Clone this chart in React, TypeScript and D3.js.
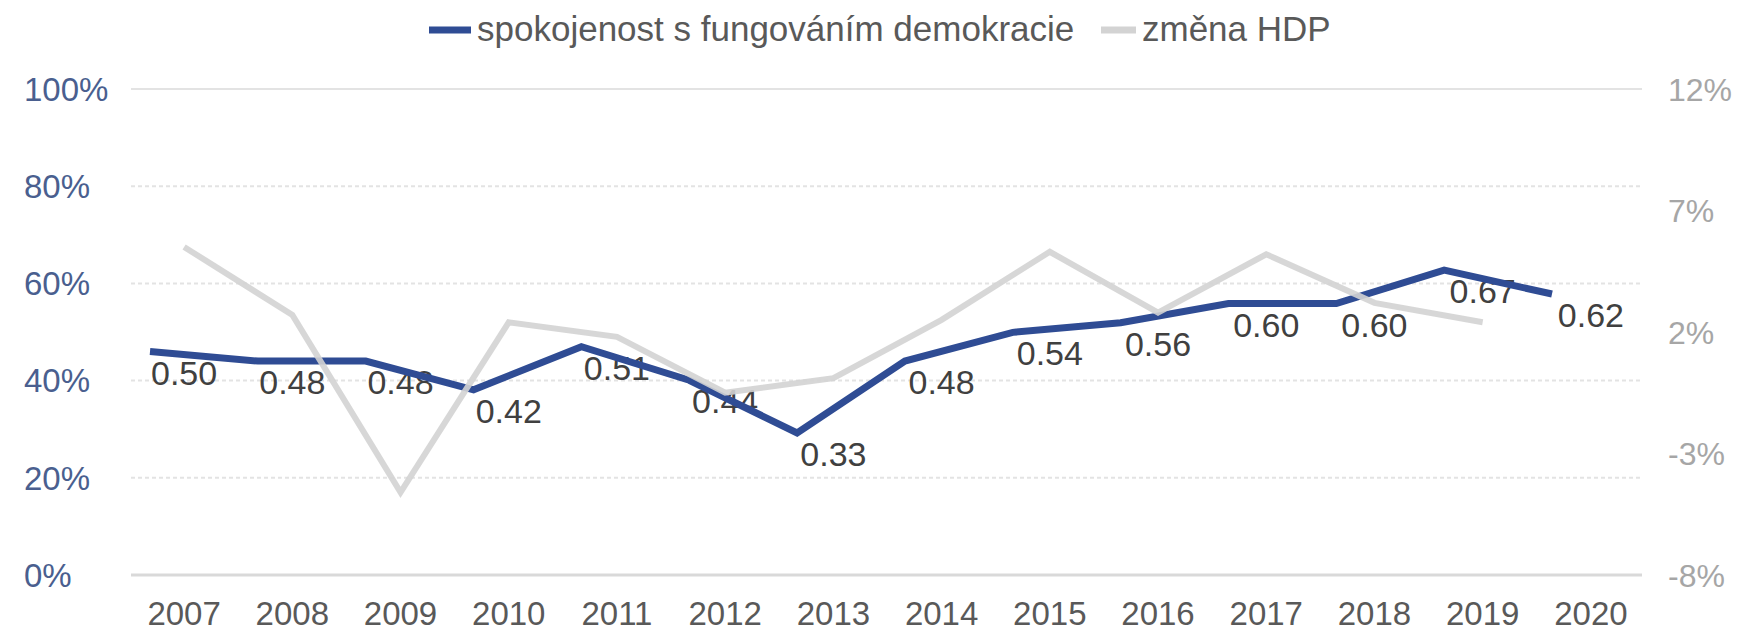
import React, { useEffect, useRef } from 'react';
import * as d3 from 'd3';

const years = ['2007', '2008', '2009', '2010', '2011', '2012', '2013', '2014', '2015', '2016', '2017', '2018', '2019', '2020'];
// spokojenost s fungováním demokracie (podíl)
const satisfaction = [0.50, 0.48, 0.48, 0.42, 0.51, 0.44, 0.33, 0.48, 0.54, 0.56, 0.60, 0.60, 0.67, 0.62];
// změna HDP (%), 2007 - 2019
const gdpYears = ['2007', '2008', '2009', '2010', '2011', '2012', '2013', '2014', '2015', '2016', '2017', '2018', '2019'];
const gdpChange = [5.5, 2.7, -4.6, 2.4, 1.8, -0.5, 0.1, 2.5, 5.3, 2.8, 5.2, 3.2, 2.4];
const leftTicks = [0, 0.2, 0.4, 0.6, 0.8, 1];
const rightTicks = [-8, -3, 2, 7, 12];
const seriesNames = ['spokojenost s fungováním demokracie', 'změna HDP'];

const BLUE = '#2F4C94';
const GRAY = '#d3d3d3';
const FONT = '"Liberation Sans", Arial, sans-serif';

function ComboChart() {
    const ref = useRef<SVGSVGElement>(null);

    useEffect(() => {
        d3.select(ref.current).selectAll('*').remove();

        const width = 1740;
        const height = 631;
        const svg = d3.select(ref.current)
            .attr('width', width)
            .attr('height', height);

        const x = d3.scaleBand<string>().domain(years).range([130, 1645]);
        const xc = (d: string) => (x(d) as number) + x.bandwidth() / 2;
        // modrá křivka je v obrázku posunutá oproti popiskům
        const xBlue = d3.scalePoint<string>().domain(years).range([150, 1552]);
        const yLeft = d3.scaleLinear().domain([0, 1]).range([575, 89]);
        const yBlue = d3.scaleLinear().domain([0, 1]).range([591, 112]);
        const yRight = d3.scaleLinear().domain([-8, 12]).range([575, 89]);

        const [x0, x1] = [131, 1642];

        // mřížka
        svg.append('g')
            .selectAll('line')
            .data(leftTicks)
            .enter()
            .append('line')
            .attr('x1', x0)
            .attr('x2', x1)
            .attr('y1', d => yLeft(d))
            .attr('y2', d => yLeft(d))
            .attr('stroke', d => (d === 0 ? '#d9d9d9' : '#e3e3e3'))
            .attr('stroke-width', d => (d === 0 ? 3 : 2))
            .attr('stroke-dasharray', d => (d === 0 || d === 1 ? null : '4,3'));

        // levá osa
        svg.append('g')
            .selectAll('text')
            .data(leftTicks)
            .enter()
            .append('text')
            .attr('x', 24)
            .attr('y', d => yLeft(d))
            .attr('dy', '0.36em')
            .style('font-family', FONT)
            .style('font-size', '33px')
            .style('fill', '#4a5f8f')
            .text(d => d3.format('.0%')(d));

        // pravá osa
        svg.append('g')
            .selectAll('text')
            .data(rightTicks)
            .enter()
            .append('text')
            .attr('x', 1668)
            .attr('y', d => yRight(d))
            .attr('dy', '0.36em')
            .style('font-family', FONT)
            .style('font-size', '32px')
            .style('fill', '#a6a6a6')
            .text(d => `${d}%`);

        // osa x
        svg.append('g')
            .selectAll('text')
            .data(years)
            .enter()
            .append('text')
            .attr('x', d => xc(d))
            .attr('y', 625)
            .attr('text-anchor', 'middle')
            .style('font-family', FONT)
            .style('font-size', '33px')
            .style('fill', '#595959')
            .text(d => d);

        // popisky dat
        svg.append('g')
            .selectAll('text')
            .data(satisfaction)
            .enter()
            .append('text')
            .attr('x', (d, i) => xc(years[i]))
            .attr('y', d => yBlue(d) + 33)
            .attr('text-anchor', 'middle')
            .style('font-family', FONT)
            .style('font-size', '34px')
            .style('fill', '#404040')
            .text(d => d.toFixed(2));

        const blueLine = d3.line<number>()
            .x((d, i) => xBlue(years[i]) as number)
            .y(d => yBlue(d));
        svg.append('path')
            .attr('d', blueLine(satisfaction) as string)
            .attr('fill', 'none')
            .attr('stroke', BLUE)
            .attr('stroke-width', 7);

        const grayLine = d3.line<number>()
            .x((d, i) => xc(gdpYears[i]))
            .y(d => yRight(d));
        svg.append('path')
            .attr('d', grayLine(gdpChange) as string)
            .attr('fill', 'none')
            .attr('stroke', GRAY)
            .attr('stroke-width', 6)
            .attr('stroke-opacity', 0.9);

        // legenda
        const legend = svg.append('g');
        const items = [
            { name: seriesNames[0], color: BLUE, x: 429, len: 42 },
            { name: seriesNames[1], color: GRAY, x: 1101, len: 35 },
        ];
        items.forEach(it => {
            legend.append('line')
                .attr('x1', it.x)
                .attr('x2', it.x + it.len)
                .attr('y1', 30)
                .attr('y2', 30)
                .attr('stroke', it.color)
                .attr('stroke-width', 7);
            legend.append('text')
                .attr('x', it.x + it.len + 6)
                .attr('y', 41)
                .style('font-family', FONT)
                .style('font-size', '35px')
                .style('fill', '#595959')
                .text(it.name);
        });
    }, []);

    return <svg ref={ref} style={{ position: 'absolute', left: 0, top: 0, background: '#fff' }}></svg>;
}

export default function App() {
    return <ComboChart />;
}
